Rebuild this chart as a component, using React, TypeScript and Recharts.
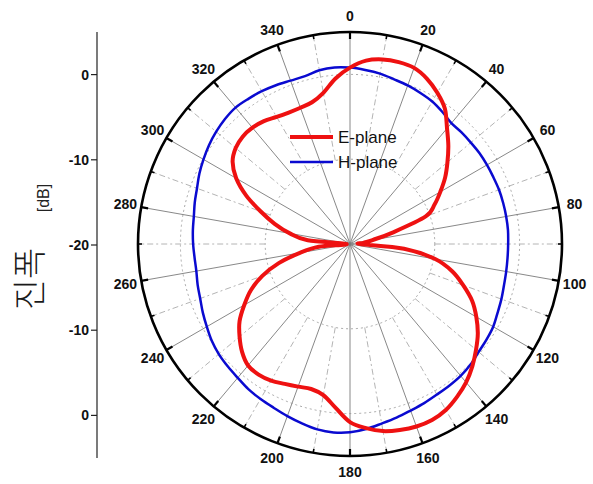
import React from "react";
import {
  RadarChart,
  Radar,
  PolarAngleAxis,
  PolarRadiusAxis,
  Legend,
  Customized,
  LineChart,
  Line,
  XAxis,
  YAxis,
} from "recharts";

// bearing in degrees, clockwise from top
const angles = [
  0, 5, 10, 15, 20, 25, 30, 35, 40, 45, 50, 55, 60, 65, 70, 75, 80, 85,
  90, 95, 100, 105, 110, 115, 120, 125, 130, 135, 140, 145, 150, 155, 160, 165, 170, 175,
  180, 185, 190, 195, 200, 205, 210, 215, 220, 225, 230, 235, 240, 245, 250, 255, 260, 265,
  270, 275, 280, 285, 290, 295, 300, 305, 310, 315, 320, 325, 330, 335, 340, 345, 350, 355,
];

// E-plane [dB]
const ePlane = [
  0.8, 1.7, 2.1, 2.2, 2.1, 1.5, 0.6, -0.5, -2.2, -3.6, -5.0, -6.3, -7.7, -9.0, -10.5, -14.8, -17.3, -18.4,
  -18.8, -13.6, -9.8, -7.5, -5.8, -4.1, -2.8, -1.6, -0.6, 0.4, 1.3, 2.0, 2.6, 2.9, 2.9, 2.7, 2.4, 1.8,
  1.0, -0.6, -1.9, -2.3, -2.1, -1.8, -1.4, -1.2, -1.3, -2.0, -3.0, -4.1, -5.6, -7.1, -9.0, -11.3, -14.0, -16.3,
  -19.6, -15.0, -12.8, -10.8, -8.8, -6.5, -4.5, -3.1, -2.4, -2.1, -2.1, -2.3, -2.7, -2.9, -2.9, -2.7, -1.9, -0.4,
];

// H-plane [dB]
const hPlane = [
  0.8, 0.6, 0.4, 0.1, -0.1, -0.35, -0.6, -1.0, -1.4, -1.4, -1.4, -1.35, -1.35, -1.35, -1.3, -1.3, -1.3, -1.3,
  -1.35, -1.35, -1.3, -1.2, -1.0, -0.8, -0.5, -0.35, -0.2, 0.1, 0.3, 0.4, 0.5, 0.7, 0.9, 1.2, 1.5, 1.9,
  2.2, 2.3, 2.2, 1.9, 1.6, 1.3, 1.1, 0.9, 0.6, 0.4, 0.2, -0.1, -0.5, -0.85, -1.2, -1.4, -1.6, -1.6,
  -1.5, -1.4, -1.3, -1.05, -0.8, -0.4, -0.05, 0.3, 0.6, 0.85, 1.0, 0.9, 0.8, 0.65, 0.5, 0.5, 0.8, 0.9,
];

const angleLabels = [0, 20, 40, 60, 80, 100, 120, 140, 160, 180, 200, 220, 240, 260, 280, 300, 320, 340];
const minorAngles = [10, 30, 50, 70, 90, 110, 130, 150, 170, 190, 210, 230, 250, 270, 290, 310, 330, 350];
const ringLevels = [-10, 0];
const radiusDomain = [-20, 5];
const leftTicks = [-20, -10, 0, 10, 20];

const data = angles.map((a, i) => ({ angle: a, e: ePlane[i], h: hPlane[i] }));
const leftAxisData = [{ i: 0, v: -25 }, { i: 1, v: 25 }];

const series = [
  { key: "e", name: "E-plane", color: "#ee1111", width: 4 },
  { key: "h", name: "H-plane", color: "#0a0ad0", width: 2.5 },
];

const CX = 350;
const CY = 244;
const R = 212;
const FONT = "'Liberation Sans', Arial, sans-serif";

const rOf = (db: number) => ((db - radiusDomain[0]) / (radiusDomain[1] - radiusDomain[0])) * R;
const pt = (bearing: number, r: number) => {
  const t = (bearing * Math.PI) / 180;
  return { x: CX + r * Math.sin(t), y: CY - r * Math.cos(t) };
};

function Grid() {
  const rIn = rOf(-10);
  return (
    <g>
      {ringLevels.map((lv) => (
        <circle key={lv} cx={CX} cy={CY} r={rOf(lv)} fill="none" stroke="#a8a8a8" strokeWidth={1} strokeDasharray="2 3" />
      ))}
      {minorAngles.map((a) => {
        const p1 = pt(a, rIn);
        const p2 = pt(a, R);
        return <line key={a} x1={p1.x} y1={p1.y} x2={p2.x} y2={p2.y} stroke="#b4b4b4" strokeWidth={1} strokeDasharray="6 3 2 3" />;
      })}
      {angleLabels.map((a) => {
        const p2 = pt(a, R);
        return <line key={a} x1={CX} y1={CY} x2={p2.x} y2={p2.y} stroke="#7a7a7a" strokeWidth={0.9} />;
      })}
    </g>
  );
}

function TickMarks() {
  return (
    <g>
      {angleLabels.map((a) => {
        const p1 = pt(a, R);
        const p2 = pt(a, R - 7);
        return <line key={a} x1={p1.x} y1={p1.y} x2={p2.x} y2={p2.y} stroke="#000" strokeWidth={2.2} />;
      })}
      {minorAngles.map((a) => {
        const p1 = pt(a, R);
        const p2 = pt(a, R - 4);
        return <line key={a} x1={p1.x} y1={p1.y} x2={p2.x} y2={p2.y} stroke="#000" strokeWidth={1.6} />;
      })}
    </g>
  );
}

// closed Catmull-Rom curve through the radar's own points
const SmoothPolar = (props: any) => {
  const pts = props.points || [];
  const n = pts.length;
  if (!n) return null;
  let d = `M${pts[0].x},${pts[0].y}`;
  for (let i = 0; i < n; i++) {
    const p0 = pts[(i - 1 + n) % n];
    const p1 = pts[i];
    const p2 = pts[(i + 1) % n];
    const p3 = pts[(i + 2) % n];
    const c1x = p1.x + (p2.x - p0.x) / 6;
    const c1y = p1.y + (p2.y - p0.y) / 6;
    const c2x = p2.x - (p3.x - p1.x) / 6;
    const c2y = p2.y - (p3.y - p1.y) / 6;
    d += ` C${c1x},${c1y} ${c2x},${c2y} ${p2.x},${p2.y}`;
  }
  return <path d={d + "Z"} fill="none" stroke={props.stroke} strokeWidth={props.strokeWidth} strokeLinejoin="round" />;
};

const AngleTick = (props: any) => {
  const { x, y, payload } = props;
  if (payload.value % 20 !== 0) return null;
  return (
    <text x={x} y={y} textAnchor="middle" dominantBaseline="central" fill="#111" fontSize={14} fontWeight="bold" fontFamily={FONT}>
      {payload.value}
    </text>
  );
};

const renderLegend = () => (
  <svg width={130} height={50}>
    {series.map((s, i) => (
      <g key={s.key}>
        <line x1={0} x2={43} y1={12 + i * 25} y2={12 + i * 25} stroke={s.color} strokeWidth={s.width} />
        <text x={48} y={12 + i * 25} dominantBaseline="central" fontSize={17} fontFamily={FONT} fill="#111">
          {s.name}
        </text>
      </g>
    ))}
  </svg>
);

export default function App() {
  return (
    <div style={{ position: "absolute", left: 0, top: 0, width: 593, height: 484, background: "#fff" }}>
      <LineChart
        width={120}
        height={484}
        data={leftAxisData}
        margin={{ top: 32, bottom: 26, left: 0, right: 0 }}
        style={{ position: "absolute", left: 0, top: 0 }}
      >
        <XAxis dataKey="i" hide />
        <YAxis
          type="number"
          domain={[-25, 25]}
          ticks={leftTicks}
          tickFormatter={(v: number) => String(Math.abs(v) - 20)}
          width={97}
          tickSize={6}
          axisLine={{ stroke: "#222", strokeWidth: 1.2 }}
          tickLine={{ stroke: "#222", strokeWidth: 1.2 }}
          tick={{ fill: "#111", fontSize: 14, fontWeight: "bold", fontFamily: FONT }}
        />
        <Line dataKey="v" stroke="none" dot={false} isAnimationActive={false} />
      </LineChart>

      <svg width={80} height={484} style={{ position: "absolute", left: 0, top: 0 }}>
        <text
          x={43}
          y={198}
          transform="rotate(-90 43 198)"
          textAnchor="middle"
          dominantBaseline="central"
          fontSize={16}
          fontFamily={FONT}
          fill="#222"
        >
          [dB]
        </text>
        <text
          x={27}
          y={279}
          transform="rotate(-90 27 279)"
          textAnchor="middle"
          dominantBaseline="central"
          fontSize={34}
          fontWeight={300}
          fontFamily="'Noto Sans CJK KR Light', 'Noto Sans CJK KR', sans-serif"
          fill="#1a1a1a"
        >
          진폭
        </text>
      </svg>

      <RadarChart
        width={593}
        height={484}
        data={data}
        cx={CX}
        cy={CY}
        outerRadius={R}
        startAngle={90}
        endAngle={-270}
        margin={{ top: 0, right: 0, bottom: 0, left: 0 }}
        style={{ position: "absolute", left: 0, top: 0 }}
      >
        <Customized component={<Grid />} />
        <PolarRadiusAxis domain={radiusDomain} tick={false} axisLine={false} />
        <PolarAngleAxis
          dataKey="angle"
          tick={AngleTick}
          tickSize={16}
          tickLine={false}
          axisLineType="circle"
          axisLine={{ stroke: "#000", strokeWidth: 2.6 }}
        />
        <Radar dataKey="h" name="H-plane" stroke={series[1].color} strokeWidth={series[1].width} fill="none" fillOpacity={0} dot={false} shape={SmoothPolar} isAnimationActive={false} />
        <Radar dataKey="e" name="E-plane" stroke={series[0].color} strokeWidth={series[0].width} fill="none" fillOpacity={0} dot={false} shape={SmoothPolar} isAnimationActive={false} />
        <Customized component={<TickMarks />} />
        <Legend
          layout="vertical"
          align="center"
          verticalAlign="middle"
          content={renderLegend}
          wrapperStyle={{ left: 290, top: 125, width: 130, height: 50 }}
        />
      </RadarChart>
    </div>
  );
}
